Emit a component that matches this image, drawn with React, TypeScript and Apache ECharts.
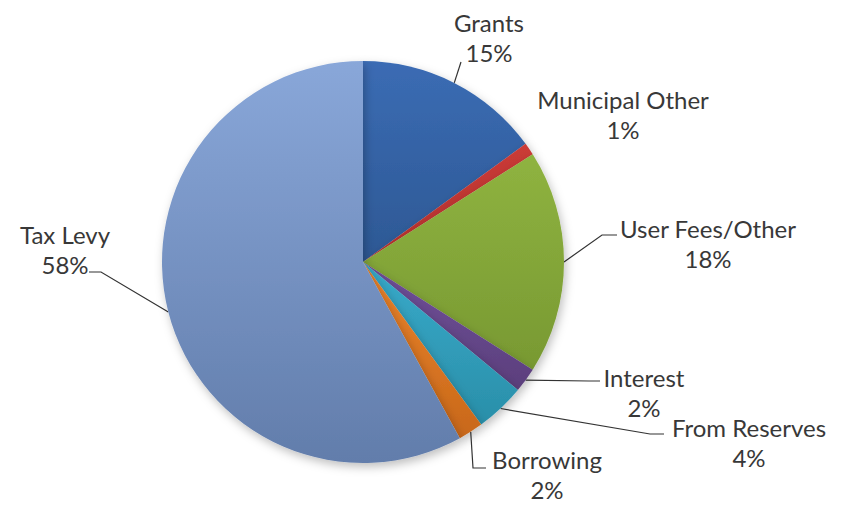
import React, { useEffect, useRef } from "react";
import * as echarts from "echarts";

// ---- data ----
const categories = [
  "Grants",
  "Municipal Other",
  "User Fees/Other",
  "Interest",
  "From Reserves",
  "Borrowing",
  "Tax Levy",
];
const percents = [15, 1, 18, 2, 4, 2, 58];

// ---- styles ----
const sliceColors: [string, string][] = [
  ["#3B6CB4", "#2D5894"],
  ["#CB3B37", "#B0302C"],
  ["#8FB340", "#789932"],
  ["#70509A", "#5B3F7C"],
  ["#38AACA", "#2A8FA9"],
  ["#EC842C", "#C8681A"],
  ["#89A7D9", "#627DAB"],
];

// label layout (centre of label block, and elbow points of the leader line)
const labelLayoutTable: { x: number; y: number; line: number[][] | null }[] = [
  { x: 489, y: 37, line: [[461, 62]] },
  { x: 623, y: 114, line: null },
  { x: 708, y: 243, line: [[602, 235], [617, 235]] },
  { x: 644, y: 392, line: [[589, 381], [600, 381]] },
  { x: 749, y: 442, line: [[650, 434], [664, 434]] },
  { x: 547, y: 474, line: [[473, 468], [486, 468]] },
  { x: 65, y: 249, line: [[101, 272], [89, 272]] },
];

export default function App() {
  const ref = useRef<HTMLDivElement>(null);
  useEffect(() => {
    if (!ref.current) return;
    const chart = echarts.init(ref.current, null, { renderer: "svg" });
    const data = categories.map((name, i) => ({
      name,
      value: percents[i],
      itemStyle: {
        color: new echarts.graphic.LinearGradient(0, 0, 0, 1, [
          { offset: 0, color: sliceColors[i][0] },
          { offset: 1, color: sliceColors[i][1] },
        ]),
      },
      labelLine: { show: labelLayoutTable[i].line !== null },
    }));
    chart.setOption({
      animation: false,
      backgroundColor: "#ffffff",
      series: [
        {
          type: "pie",
          center: [363, 262],
          radius: 201,
          startAngle: 90,
          clockwise: true,
          avoidLabelOverlap: false,
          data,
          itemStyle: {
            borderWidth: 0,
            shadowBlur: 10,
            shadowOffsetX: 2,
            shadowOffsetY: 4,
            shadowColor: "rgba(0,0,0,0.25)",
          },
          label: {
            show: true,
            position: "outside",
            formatter: "{b}\n{c}%",
            fontFamily: "Lato",
            fontSize: 24,
            lineHeight: 30,
            color: "#383838",
            align: "center",
          },
          labelLine: {
            show: true,
            length: 10,
            length2: 10,
            smooth: false,
            lineStyle: { color: "#333333", width: 1.2 },
          },
          labelLayout: (params: any) => {
            const p = labelLayoutTable[params.dataIndex];
            const out: any = {
              x: p.x,
              y: p.y,
              align: "center",
              verticalAlign: "middle",
            };
            if (p.line && params.labelLinePoints && params.labelLinePoints[0]) {
              out.labelLinePoints = [params.labelLinePoints[0], ...p.line];
            }
            return out;
          },
          emphasis: { disabled: true },
        },
      ],
    });
    return () => chart.dispose();
  }, []);
  return (
    <div
      ref={ref}
      style={{ position: "absolute", left: 0, top: 0, width: 846, height: 505 }}
    />
  );
}
